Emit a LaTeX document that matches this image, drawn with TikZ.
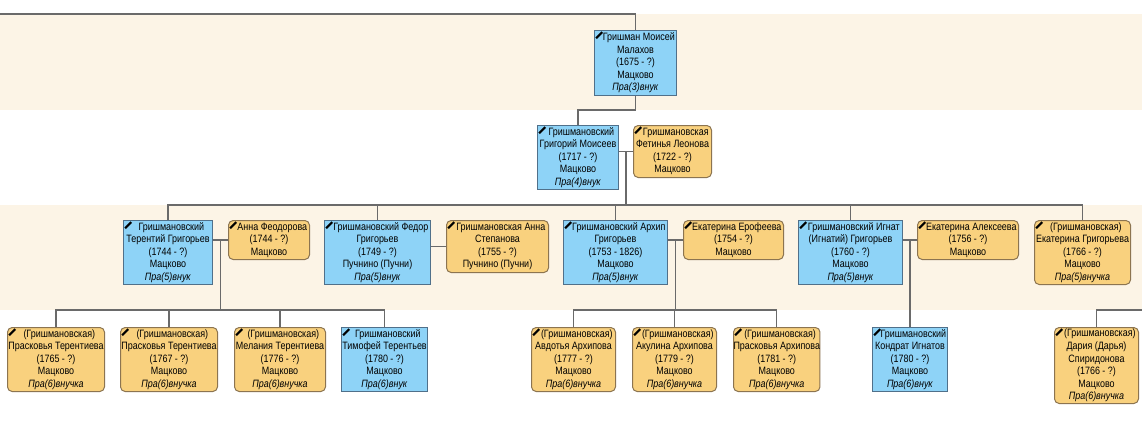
\documentclass[tikz,border=0pt]{standalone}
\usepackage{fontspec}
\setmainfont{Liberation Sans}[FakeStretch=0.84]
\usetikzlibrary{calc}
\definecolor{bandC}{HTML}{FCF4E6}
\definecolor{maleC}{HTML}{8ED3F7}
\definecolor{femC}{HTML}{F9D17E}
\definecolor{lineC}{HTML}{6A6A6A}
\definecolor{mborder}{HTML}{50708A}
\definecolor{fborder}{HTML}{8C7450}
\newcommand\personbox[6]{%
  \node[#1, minimum width=#4*0.75pt, minimum height=#5*0.75pt] (#2) at (#3) {\hspace*{5pt}#6};
  \draw[cornermark] ([xshift=1.6pt,yshift=-6.2pt]#2.north west) -- ([xshift=6.2pt,yshift=-1.6pt]#2.north west);}
\begin{document}
\begin{tikzpicture}[x=0.75pt,y=-0.75pt,
  person/.style={draw, line width=0.75pt, align=center, inner sep=0pt, anchor=north west,
    font=\fontsize{8}{9.4}\selectfont},
  male/.style={person, fill=maleC, draw=mborder},
  female/.style={person, fill=femC, draw=fborder, rounded corners=3.5pt},
  link/.style={draw=lineC, line width=0.8pt},
  cornermark/.style={draw=black, line width=1.6pt}]
\useasboundingbox (0,0) rectangle (1142,422);
\fill[white] (0,0) rectangle (1142,422);
\fill[bandC] (0,14) rectangle (1142,110);
\fill[bandC] (0,205) rectangle (1142,310);
\coordinate (r1) at (0,14);
\coordinate (r2) at (0,110);
\coordinate (r3) at (0,205);
\coordinate (r4) at (0,310);
\coordinate (rE) at (1142,310);
% generation 1
\personbox{male}{g1}{594,30}{82}{65}{Гришман Моисей\\Малахов\\(1675 - ?)\\Мацково\\\textit{Пра(3)внук}}
% generation 2
\personbox{male}{g2}{537,125}{81}{64}{Гришмановский\\Григорий Моисеев\\(1717 - ?)\\Мацково\\\textit{Пра(4)внук}}
\personbox{female}{s2}{633,125}{78}{52}{Гришмановская\\Фетинья Леонова\\(1722 - ?)\\Мацково}
% generation 3
\personbox{male}{c1}{123,220}{89}{64}{Гришмановский\\Терентий Григорьев\\(1744 - ?)\\Мацково\\\textit{Пра(5)внук}}
\personbox{female}{c1s}{228,220}{81}{39}{Анна Феодорова\\(1744 - ?)\\Мацково}
\personbox{male}{c2}{324,220}{106}{64}{Гришмановский Федор\\Григорьев\\(1749 - ?)\\Пучнино (Пучни)\\\textit{Пра(5)внук}}
\personbox{female}{c2s}{446,220}{102}{52}{Гришмановская Анна\\Степанова\\(1755 - ?)\\Пучнино (Пучни)}
\personbox{male}{c3}{563,220}{104}{64}{Гришмановский Архип\\Григорьев\\(1753 - 1826)\\Мацково\\\textit{Пра(5)внук}}
\personbox{female}{c3s}{683,220}{100}{39}{Екатерина Ерофеева\\(1754 - ?)\\Мацково}
\personbox{male}{c4}{798,220}{104}{64}{Гришмановский Игнат\\(Игнатий) Григорьев\\(1760 - ?)\\Мацково\\\textit{Пра(5)внук}}
\personbox{female}{c4s}{917,220}{101}{39}{Екатерина Алексеева\\(1756 - ?)\\Мацково}
\personbox{female}{c5}{1034,220}{96}{64}{(Гришмановская)\\Екатерина Григорьева\\(1766 - ?)\\Мацково\\\textit{Пра(5)внучка}}
% generation 4
\personbox{female}{d1}{7,327}{97}{64}{(Гришмановская)\\Прасковья Терентиева\\(1765 - ?)\\Мацково\\\textit{Пра(6)внучка}}
\personbox{female}{d2}{120,327}{97}{64}{(Гришмановская)\\Прасковья Терентиева\\(1767 - ?)\\Мацково\\\textit{Пра(6)внучка}}
\personbox{female}{d3}{234,327}{91}{64}{(Гришмановская)\\Мелания Терентиева\\(1776 - ?)\\Мацково\\\textit{Пра(6)внучка}}
\personbox{male}{d4}{341,327}{86}{64}{Гришмановский\\Тимофей Терентьев\\(1780 - ?)\\Мацково\\\textit{Пра(6)внук}}
\personbox{female}{d5}{531,327}{84}{64}{(Гришмановская)\\Авдотья Архипова\\(1777 - ?)\\Мацково\\\textit{Пра(6)внучка}}
\personbox{female}{d6}{632,327}{84}{64}{(Гришмановская)\\Акулина Архипова\\(1779 - ?)\\Мацково\\\textit{Пра(6)внучка}}
\personbox{female}{d7}{733,327}{86}{64}{(Гришмановская)\\Прасковья Архипова\\(1781 - ?)\\Мацково\\\textit{Пра(6)внучка}}
\personbox{male}{d8}{872,327}{75}{64}{Гришмановский\\Кондрат Игнатов\\(1780 - ?)\\Мацково\\\textit{Пра(6)внук}}
\personbox{female}{d9}{1054,327}{84}{76}{(Гришмановская)\\Дария (Дарья)\\Спиридонова\\(1766 - ?)\\Мацково\\\textit{Пра(6)внучка}}
% connectors
\draw[link] (r1) -- (r1 -| g1.north) -- (g1.north);
\draw[link] (g1.south) -- (g1.south |- r2) -| (g2.north);
\draw[link] (s2.west) -- (s2.west -| g2.east);
\coordinate (m2) at ($(s2.west)!0.5!(s2.west -| g2.east)$);
\draw[link] (m2) -- (m2 |- r3);
\draw[link] (c1.north) -- (c1.north |- r3) -- (c5.north |- r3) -- (c5.north);
\foreach \n in {c2,c3,c4} \draw[link] (\n.north) -- (\n.north |- r3);
% spouses gen 3
\draw[link] (c1s.west) -- (c1s.west -| c1.east);
\draw[link] (c2s.west) -- (c2s.west -| c2.east);
\draw[link] (c3s.west) -- (c3s.west -| c3.east);
\draw[link] (c4s.west) -- (c4s.west -| c4.east);
\coordinate (m1) at ($(c1s.west)!0.5!(c1s.west -| c1.east)$);
\coordinate (m3) at ($(c3s.west)!0.5!(c3s.west -| c3.east)$);
\coordinate (m4) at ($(c4s.west)!0.5!(c4s.west -| c4.east)$);
% children of Terentiy
\draw[link] (m1) -- (m1 |- r4);
\draw[link] (d1.north) -- (d1.north |- r4) -- (d4.north |- r4) -- (d4.north);
\foreach \n in {d2,d3} \draw[link] (\n.north) -- (\n.north |- r4);
% children of Arkhip
\draw[link] (m3) -- (m3 |- r4);
\draw[link] (d5.north) -- (d5.north |- r4) -- (d7.north |- r4) -- (d7.north);
\draw[link] (d6.north) -- (d6.north |- r4);
% child of Ignat
\draw[link] (m4) -- (m4 |- d8.north);
% Dariya: parent off to the right
\draw[link] (d9.north) -- (d9.north |- r4) -- (rE);
\end{tikzpicture}
\end{document}
